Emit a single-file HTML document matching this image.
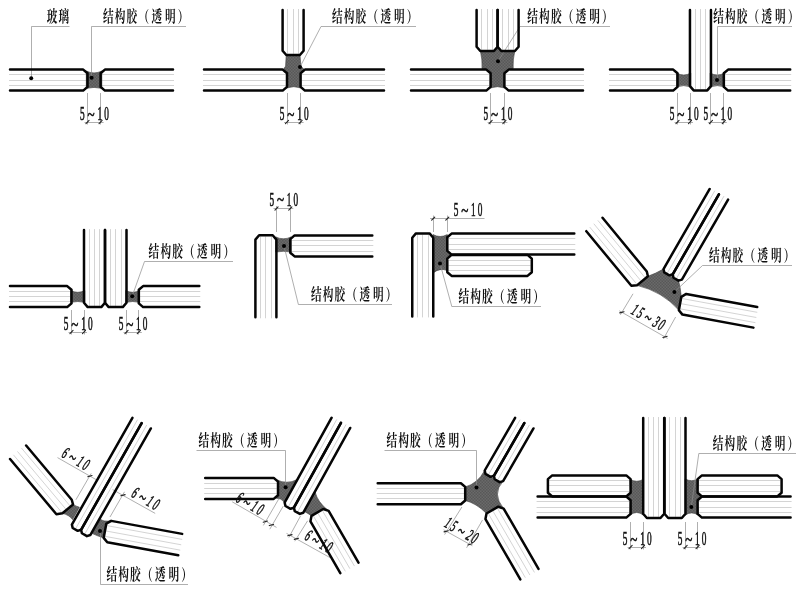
<!DOCTYPE html>
<html lang="zh-CN">
<head>
<meta charset="utf-8">
<title>玻璃 结构胶（透明） 节点</title>
<style>
html,body{margin:0;padding:0;background:#fff;}
body{width:800px;height:591px;overflow:hidden;}
svg{display:block;will-change:transform;filter:grayscale(1);}
.cj{font-family:"Liberation Serif","Noto Serif CJK SC",serif;font-size:15.9px;font-weight:700;}
.nm{font-family:"Liberation Serif","Noto Serif CJK SC",serif;stroke:#111;stroke-width:0.6px;}
.it{font-style:italic;}
</style>
</head>
<body>
<svg width="800" height="591" viewBox="0 0 800 591">
<defs><pattern id="ht" width="1.5" height="1.5" patternUnits="userSpaceOnUse"><rect width="1.5" height="1.5" fill="#767676"/><rect width="0.75" height="0.75" fill="#4c4c4c"/><rect x="0.75" y="0.75" width="0.75" height="0.75" fill="#4c4c4c"/></pattern></defs>
<rect width="800" height="591" fill="#fff"/>
<g fill="none" stroke="#c2c2c2" stroke-width="0.7">
<path d="M86.3,85.5 L9,85.5"/>
<path d="M86.3,80.5 L9,80.5"/>
<path d="M86.3,74.5 L9,74.5"/>
<path d="M101.8,74.5 L174,74.5"/>
<path d="M101.8,80.5 L174,80.5"/>
<path d="M101.8,85.5 L174,85.5"/>
<path d="M285.8,85.5 L203,85.5"/>
<path d="M285.8,80.5 L203,80.5"/>
<path d="M285.8,74.5 L203,74.5"/>
<path d="M301.8,74.5 L385,74.5"/>
<path d="M301.8,80.5 L385,80.5"/>
<path d="M301.8,85.5 L385,85.5"/>
<path d="M287.5,53.8 L287.5,9"/>
<path d="M293.5,53.8 L293.5,9"/>
<path d="M298.5,53.8 L298.5,9"/>
<path d="M489.4,85.5 L410,85.5"/>
<path d="M489.4,80.5 L410,80.5"/>
<path d="M489.4,74.5 L410,74.5"/>
<path d="M505.6,74.5 L584,74.5"/>
<path d="M505.6,80.5 L584,80.5"/>
<path d="M505.6,85.5 L584,85.5"/>
<path d="M481.5,49.8 L481.5,9"/>
<path d="M487.5,49.8 L487.5,9"/>
<path d="M492.5,49.8 L492.5,9"/>
<path d="M502.5,49.8 L502.5,9"/>
<path d="M508.5,49.8 L508.5,9"/>
<path d="M513.5,49.8 L513.5,9"/>
<path d="M676.3,85.5 L609,85.5"/>
<path d="M676.3,80.5 L609,80.5"/>
<path d="M676.3,74.5 L609,74.5"/>
<path d="M725,74.5 L791.2,74.5"/>
<path d="M725,80.5 L791.2,80.5"/>
<path d="M725,85.5 L791.2,85.5"/>
<path d="M695.5,89.2 L695.5,9"/>
<path d="M700.5,89.2 L700.5,9"/>
<path d="M705.5,89.2 L705.5,9"/>
<path d="M70.3,301.5 L9,301.5"/>
<path d="M70.3,296.5 L9,296.5"/>
<path d="M70.3,291.5 L9,291.5"/>
<path d="M140,291.5 L200.3,291.5"/>
<path d="M140,296.5 L200.3,296.5"/>
<path d="M140,301.5 L200.3,301.5"/>
<path d="M89.5,305.9 L89.5,229.1"/>
<path d="M94.5,305.9 L94.5,229.1"/>
<path d="M99.5,305.9 L99.5,229.1"/>
<path d="M110.5,305.9 L110.5,229.1"/>
<path d="M115.5,305.9 L115.5,229.1"/>
<path d="M121.5,305.9 L121.5,229.1"/>
<path d="M271.5,236.5 L271.5,318.3"/>
<path d="M265.5,236.5 L265.5,318.3"/>
<path d="M260.5,236.5 L260.5,318.3"/>
<path d="M291.5,240.5 L373.3,240.5"/>
<path d="M291.5,245.5 L373.3,245.5"/>
<path d="M291.5,251.5 L373.3,251.5"/>
<path d="M428.5,234.6 L428.5,317.4"/>
<path d="M422.5,234.6 L422.5,317.4"/>
<path d="M417.5,234.6 L417.5,317.4"/>
<path d="M448.5,238.5 L575.3,238.5"/>
<path d="M448.5,244.5 L575.3,244.5"/>
<path d="M448.5,249.5 L575.3,249.5"/>
<path d="M448.5,260.5 L530.6,260.5"/>
<path d="M448.5,265.5 L530.6,265.5"/>
<path d="M448.5,270.5 L530.6,270.5"/>
<path d="M636.69,284.01 L589.74,227.07"/>
<path d="M640.74,280.67 L593.79,223.73"/>
<path d="M644.79,277.33 L597.85,220.39"/>
<path d="M682.23,298.55 L757.27,312.33"/>
<path d="M681.28,303.72 L756.33,317.49"/>
<path d="M680.33,308.88 L755.38,322.65"/>
<path d="M667.4,272.86 L714.8,190.76"/>
<path d="M676.6,278.16 L724,196.06"/>
<path d="M61.71,512.36 L13.43,454.83"/>
<path d="M65.73,508.98 L17.46,451.45"/>
<path d="M69.75,505.61 L21.48,448.08"/>
<path d="M107.16,525.66 L182.21,539.43"/>
<path d="M106.18,531.02 L181.23,544.79"/>
<path d="M105.2,536.38 L180.24,550.15"/>
<path d="M75.79,528.36 L137.54,419.67"/>
<path d="M84.99,533.66 L146.74,424.97"/>
<path d="M276.8,493.5 L204.2,493.5"/>
<path d="M276.8,488.5 L204.2,488.5"/>
<path d="M276.8,483.5 L204.2,483.5"/>
<path d="M288.58,506.35 L336.77,419.41"/>
<path d="M297.88,511.45 L346.07,424.51"/>
<path d="M322.55,510.81 L354.45,566.07"/>
<path d="M318,513.44 L349.9,568.69"/>
<path d="M313.45,516.06 L345.35,571.32"/>
<path d="M464,498.5 L376.7,498.5"/>
<path d="M464,493.5 L376.7,493.5"/>
<path d="M464,488.5 L376.7,488.5"/>
<path d="M488.6,474.36 L520.2,419.63"/>
<path d="M497.8,479.66 L529.4,424.93"/>
<path d="M497.55,508.51 L534.45,572.43"/>
<path d="M493,511.14 L529.9,575.05"/>
<path d="M488.45,513.76 L525.35,577.68"/>
<path d="M629.4,512.5 L536.6,512.5"/>
<path d="M629.4,507.5 L536.6,507.5"/>
<path d="M629.4,501.5 L536.6,501.5"/>
<path d="M698.8,501.5 L791.6,501.5"/>
<path d="M698.8,507.5 L791.6,507.5"/>
<path d="M698.8,512.5 L791.6,512.5"/>
<path d="M629.4,491.5 L549.1,491.5"/>
<path d="M629.4,485.5 L549.1,485.5"/>
<path d="M629.4,480.5 L549.1,480.5"/>
<path d="M698.8,480.5 L780.4,480.5"/>
<path d="M698.8,485.5 L780.4,485.5"/>
<path d="M698.8,491.5 L780.4,491.5"/>
<path d="M648.5,516.8 L648.5,417"/>
<path d="M653.5,516.8 L653.5,417"/>
<path d="M658.5,516.8 L658.5,417"/>
<path d="M669.5,516.8 L669.5,417"/>
<path d="M675.5,516.8 L675.5,417"/>
<path d="M680.5,516.8 L680.5,417"/>
</g>
<g fill="url(#ht)" stroke="#3a3a3a" stroke-width="0.6">
<path d="M86.3,71 Q94.05,74.8 101.8,71 L101.8,88.4 Q94.05,86.4 86.3,88.4 Z"/>
<path d="M286.2,55.2 L300,55.2 L300.9,66.2 L304.4,69.6 L300.6,73.2 L300.6,86.6 L302,88.2 Q293.8,85.2 285.6,88.2 L287,86.6 L287,73.2 L283.2,69.6 L285.6,66.2 Z"/>
<path d="M480.4,51 L494,51 L497.6,47.5 L501.2,51 L514.8,51 Q512.6,60 513.2,68.6 L508.8,69.4 L504.4,73.2 L504.4,86.6 L505.8,88.2 Q497.5,85.2 489.2,88.2 L490.6,86.6 L490.6,73.2 L486.2,69.4 L482,68.6 Q482.6,60 480.4,51 Z"/>
<path d="M676.7,73 Q683.75,77 690.8,73 L690.8,87 Q683.75,84.2 676.7,87 Z"/>
<path d="M710.1,73 Q717.35,77 724.6,73 L724.6,87 Q717.35,84.2 710.1,87 Z"/>
<path d="M70.7,290.6 Q77.75,294 84.8,290.6 L84.8,302.4 Q77.75,300.6 70.7,302.4 Z"/>
<path d="M125.7,290.6 Q132.65,294 139.6,290.6 L139.6,302.4 Q132.65,300.6 125.7,302.4 Z"/>
<path d="M275.7,236.9 Q283.4,240.7 291.1,236.9 L291.1,252 Q283.4,250.6 275.7,252 Z"/>
<path d="M433,234.6 Q440.2,238.4 447.3,234.6 L447.3,250.8 L451.4,254.8 L447.3,258.8 L447.3,270.6 Q440,267.4 433,273 Z"/>
<path d="M647.9,276.32 Q655.5,273.6 663.51,269 L664.29,272.45 L669.31,275.35 L673.49,277.75 L678.51,280.65 Q680.2,286 681.33,296.81 L678.87,310.19 Q662.3,291.4 636.95,285.35 Z"/>
<path d="M73.01,504.44 Q76.4,506.4 79.4,507.2 L72.6,519.6 Q69.6,515.2 62.44,513.31 Z"/>
<path d="M100.6,519.2 Q102.8,521.8 111.2,520.86 L106.3,523.72 L103.7,537.88 Q97.5,536 92.4,533.6 Z"/>
<path d="M275.8,479.4 Q287,485 297.4,479.4 L284.6,502.4 Q281,497.8 276.2,498.2 L278,495.2 L278,481.6 Z"/>
<path d="M315.2,492.2 Q317.5,502 328.64,510.87 L323.29,509 L311.51,515.8 Q307.5,513 304.3,511.4 Z"/>
<path d="M465.2,486.9 Q477.4,483.8 484.71,470.5 L485.49,473.95 L490.51,476.85 L494.69,479.25 L499.71,482.15 L503.09,481.1 Q491.5,494 503.64,508.57 L498.29,506.7 L486.51,513.5 Q476.3,503.2 465.2,500.5 Z"/>
<path d="M629.8,479.2 Q636.8,483.3 643.5,479.2 L643.5,515.2 Q636.8,509.8 629.8,515.2 L630.6,500.2 L626.6,496.3 L630.6,492.4 Z"/>
<path d="M685,478.8 Q691.6,482.6 698.4,478.8 L697.6,492.4 L701.6,496.3 L697.6,500.2 L698.4,515.2 Q691.6,510.6 685,515.2 Z"/>
</g>
<g fill="none" stroke="#8c8c8c" stroke-width="0.7">
<path d="M91.5,77.8 L91.5,26.5 L186,26.5"/>
<path d="M31.5,78.3 L31.5,26.5 L69.5,26.5"/>
<path d="M87.5,93 L87.5,124.5"/>
<path d="M100.5,93 L100.5,124.5"/>
<path d="M84.5,122.5 L103.6,122.5"/>
<path d="M300,67 L321,26.5 L416,26.5"/>
<path d="M287.5,93 L287.5,124.5"/>
<path d="M300.5,93 L300.5,124.5"/>
<path d="M284,122.5 L303.6,122.5"/>
<path d="M498,61.2 L520,26.5 L610,26.5"/>
<path d="M490.5,93 L490.5,124.5"/>
<path d="M504.5,93 L504.5,124.5"/>
<path d="M487.6,122.5 L507.4,122.5"/>
<path d="M717.5,80 L717.5,26.5 L792,26.5"/>
<path d="M677.5,93 L677.5,124.5"/>
<path d="M690.5,93 L690.5,124.5"/>
<path d="M674.5,122.5 L693,122.5"/>
<path d="M710.5,93 L710.5,124.5"/>
<path d="M723.5,93 L723.5,124.5"/>
<path d="M707.9,122.5 L726.8,122.5"/>
<path d="M132.2,296.2 L144.5,261.5 L233,261.5"/>
<path d="M71.5,310 L71.5,334.5"/>
<path d="M84.5,310 L84.5,334.5"/>
<path d="M68.5,332.5 L87,332.5"/>
<path d="M126.5,310 L126.5,334.5"/>
<path d="M138.5,310 L138.5,334.5"/>
<path d="M123.5,332.5 L141.8,332.5"/>
<path d="M284,246 L298.4,304.5 L392,304.5"/>
<path d="M276.5,232 L276.5,206"/>
<path d="M290.5,232 L290.5,206"/>
<path d="M273.5,208.5 L293.3,208.5"/>
<path d="M440,263.4 L451.8,306.5 L541,306.5"/>
<path d="M433.5,232 L433.5,215.5"/>
<path d="M447.5,232 L447.5,215.5"/>
<path d="M430,218.5 L484.5,218.5"/>
<path d="M674.4,292 L702.5,265.5 L792,265.5"/>
<path d="M633,293.8 L620.4,314.8"/>
<path d="M675.6,317 L663.4,339"/>
<path d="M619.3,310.8 L667.6,338.4"/>
<path d="M100.5,531 L100.5,584.5 L188,584.5"/>
<path d="M57.5,457.6 L97.8,480.6"/>
<path d="M91.2,473.4 L75.9,499.8"/>
<path d="M112.6,489.6 L155.2,513.4"/>
<path d="M124.5,491.8 L110,517"/>
<path d="M285.5,487.3 L285.5,450.5 L196.5,450.5"/>
<path d="M232.2,501.8 L276.5,527.4"/>
<path d="M278.6,499.2 L263.4,525.4"/>
<path d="M283.2,506.2 L269.8,529.2"/>
<path d="M286.5,533.4 L330,557.6"/>
<path d="M300.6,515.8 L288.8,537.6"/>
<path d="M307.6,520.8 L294.8,541.2"/>
<path d="M476.5,487.5 L476.5,450.5 L384.5,450.5"/>
<path d="M461.9,507 L444.6,534.6"/>
<path d="M482.5,520 L466.6,547.8"/>
<path d="M443.6,529.8 L472.4,545.8"/>
<path d="M691.3,507 L698.8,453.5 L796,453.5"/>
<path d="M630.5,522 L630.5,549.5"/>
<path d="M643.5,522 L643.5,549.5"/>
<path d="M627.6,547.5 L646,547.5"/>
<path d="M685.5,522 L685.5,549.5"/>
<path d="M697.5,522 L697.5,549.5"/>
<path d="M682.6,547.5 L700.6,547.5"/>
</g>
<g fill="none" stroke="#050505" stroke-width="2.5" stroke-linejoin="round" stroke-linecap="round">
<path d="M10,90.6 L83.2,90.6 L87.5,86.9 L87.5,73.3 L83.2,69.6 L10,69.6"/>
<path d="M173,69.6 L104.9,69.6 L100.6,73.3 L100.6,86.9 L104.9,90.6 L173,90.6"/>
<path d="M204,90.6 L282.7,90.6 L287,86.9 L287,73.3 L282.7,69.6 L204,69.6"/>
<path d="M384,69.6 L304.9,69.6 L300.6,73.3 L300.6,86.9 L304.9,90.6 L384,90.6"/>
<path d="M282.6,10 L282.6,50.7 L286.3,55 L299.9,55 L303.6,50.7 L303.6,10"/>
<path d="M411,90.6 L486.3,90.6 L490.6,86.9 L490.6,73.3 L486.3,69.6 L411,69.6"/>
<path d="M583,69.6 L508.7,69.6 L504.4,73.3 L504.4,86.9 L508.7,90.6 L583,90.6"/>
<path d="M476.6,10 L476.6,46.7 L480.3,51 L493.9,51 L497.6,46.7 L497.6,10"/>
<path d="M497.6,10 L497.6,46.7 L501.3,51 L514.9,51 L518.6,46.7 L518.6,10"/>
<path d="M610,90.6 L673.2,90.6 L677.5,86.9 L677.5,73.3 L673.2,69.6 L610,69.6"/>
<path d="M790.2,69.6 L728.1,69.6 L723.8,73.3 L723.8,86.9 L728.1,90.6 L790.2,90.6"/>
<path d="M689.95,10 L689.95,86.1 L693.65,90.4 L707.25,90.4 L710.95,86.1 L710.95,10"/>
<path d="M10,307.1 L67.2,307.1 L71.5,303.4 L71.5,289.8 L67.2,286.1 L10,286.1"/>
<path d="M199.3,286.1 L143.1,286.1 L138.8,289.8 L138.8,303.4 L143.1,307.1 L199.3,307.1"/>
<path d="M84,230.1 L84,302.8 L87.7,307.1 L101.3,307.1 L105,302.8 L105,230.1"/>
<path d="M105,230.1 L105,302.8 L108.7,307.1 L122.8,307.1 L126.5,302.8 L126.5,230.1"/>
<path d="M276.4,317.3 L276.4,239.6 L272.7,235.3 L259.1,235.3 L255.4,239.6 L255.4,317.3"/>
<path d="M372.3,235.4 L294.6,235.4 L290.3,239.1 L290.3,252.7 L294.6,256.4 L372.3,256.4"/>
<path d="M433.25,316.4 L433.25,237.7 L429.55,233.4 L415.95,233.4 L412.25,237.7 L412.25,316.4"/>
<path d="M574.3,233.6 L451.6,233.6 L447.3,237.3 L447.3,250.9 L451.6,254.6 L574.3,254.6"/>
<path d="M447.3,258.6 L447.3,272.2 L451.6,275.9 L527.5,275.9 L531.8,272.2 L531.8,258.6 L527.5,254.9 L451.6,254.9 Z"/>
<path d="M586.33,231.18 L631.36,285.81 L636.95,285.35 L647.9,276.32 L646.8,271.53 L602.53,217.82"/>
<path d="M757.24,306.98 L686.22,293.95 L681.33,296.81 L678.87,310.19 L682.43,314.6 L753.45,327.64"/>
<path d="M709.71,188.98 L663.51,269 L664.29,272.45 L669.31,275.35 L672.69,274.3 L718.89,194.28"/>
<path d="M718.91,194.28 L672.71,274.3 L673.49,277.75 L678.51,280.65 L681.89,279.6 L728.09,199.58"/>
<path d="M10.05,458.97 L56.4,514.2 L62.44,513.31 L73.01,504.44 L71.72,499.78 L26.14,445.47"/>
<path d="M182.21,533.89 L111.2,520.86 L106.3,523.72 L103.7,537.88 L107.26,542.3 L178.28,555.33"/>
<path d="M132.43,417.92 L71.88,524.52 L72.68,527.97 L77.72,530.83 L81.09,529.76 L141.65,423.16"/>
<path d="M141.63,423.22 L81.08,529.82 L81.88,533.27 L86.92,536.13 L90.29,535.06 L150.85,428.46"/>
<path d="M205.2,498.9 L273.7,498.9 L278,495.2 L278,481.6 L273.7,477.9 L205.2,477.9"/>
<path d="M331.65,417.72 L284.63,502.56 L285.46,505.99 L290.54,508.81 L293.9,507.7 L340.92,422.86"/>
<path d="M340.95,422.82 L293.93,507.66 L294.76,511.09 L299.84,513.91 L303.2,512.8 L350.22,427.96"/>
<path d="M358.49,562.58 L328.64,510.87 L323.29,509 L311.51,515.8 L310.46,521.37 L340.31,573.08"/>
<path d="M377.7,504.2 L460.9,504.2 L465.2,500.5 L465.2,486.9 L460.9,483.2 L377.7,483.2"/>
<path d="M515.11,417.84 L484.71,470.5 L485.49,473.95 L490.51,476.85 L493.89,475.8 L524.29,423.14"/>
<path d="M524.31,423.14 L493.91,475.8 L494.69,479.25 L499.71,482.15 L503.09,481.1 L533.49,428.44"/>
<path d="M538.49,568.94 L503.64,508.57 L498.29,506.7 L486.51,513.5 L485.46,519.07 L520.31,579.44"/>
<path d="M537.6,517.6 L626.3,517.6 L630.6,513.9 L630.6,500.3 L626.3,496.6 L537.6,496.6"/>
<path d="M790.6,496.6 L701.9,496.6 L697.6,500.3 L697.6,513.9 L701.9,517.6 L790.6,517.6"/>
<path d="M630.6,492.7 L630.6,479.1 L626.3,475.4 L552.2,475.4 L547.9,479.1 L547.9,492.7 L552.2,496.4 L626.3,496.4 Z"/>
<path d="M697.6,479.1 L697.6,492.7 L701.9,496.4 L777.3,496.4 L781.6,492.7 L781.6,479.1 L777.3,475.4 L701.9,475.4 Z"/>
<path d="M643.2,418 L643.2,513.7 L646.9,518 L660.5,518 L664.2,513.7 L664.2,418"/>
<path d="M664.5,418 L664.5,513.7 L668.2,518 L681.8,518 L685.5,513.7 L685.5,418"/>
</g>
<g fill="none" stroke="#222" stroke-width="1.1" stroke-linecap="round">
<path d="M89.06,120.44 L85.94,123.56"/>
<path d="M102.16,120.44 L99.04,123.56"/>
<path d="M288.56,120.44 L285.44,123.56"/>
<path d="M302.16,120.44 L299.04,123.56"/>
<path d="M492.16,120.44 L489.04,123.56"/>
<path d="M505.96,120.44 L502.84,123.56"/>
<path d="M679.06,120.44 L675.94,123.56"/>
<path d="M691.56,120.44 L688.44,123.56"/>
<path d="M712.46,120.44 L709.34,123.56"/>
<path d="M725.36,120.44 L722.24,123.56"/>
<path d="M73.06,330.44 L69.94,333.56"/>
<path d="M85.56,330.44 L82.44,333.56"/>
<path d="M128.06,330.44 L124.94,333.56"/>
<path d="M140.36,330.44 L137.24,333.56"/>
<path d="M278.06,206.94 L274.94,210.06"/>
<path d="M291.86,206.94 L288.74,210.06"/>
<path d="M434.76,217.04 L431.64,220.16"/>
<path d="M448.86,217.04 L445.74,220.16"/>
<path d="M624.03,311.73 L619.77,312.87"/>
<path d="M667.13,336.33 L662.87,337.47"/>
<path d="M92.03,475.53 L87.77,476.67"/>
<path d="M125.13,494.63 L120.87,495.77"/>
<path d="M267.43,521.03 L263.17,522.17"/>
<path d="M273.53,524.43 L269.27,525.57"/>
<path d="M292.03,534.63 L287.77,535.77"/>
<path d="M298.53,538.23 L294.27,539.37"/>
<path d="M448.33,530.73 L444.07,531.87"/>
<path d="M472.13,543.83 L467.87,544.97"/>
<path d="M632.16,545.44 L629.04,548.56"/>
<path d="M644.56,545.44 L641.44,548.56"/>
<path d="M687.16,545.44 L684.04,548.56"/>
<path d="M699.16,545.44 L696.04,548.56"/>
</g>
<g fill="#000">
<circle cx="91.6" cy="77.8" r="2"/>
<circle cx="31.2" cy="78.3" r="2"/>
<circle cx="300" cy="67" r="2"/>
<circle cx="498" cy="61.2" r="2"/>
<circle cx="717" cy="80" r="2"/>
<circle cx="132.2" cy="296.2" r="2"/>
<circle cx="284" cy="246" r="2"/>
<circle cx="440" cy="263.4" r="2"/>
<circle cx="674.4" cy="292" r="2"/>
<circle cx="100" cy="531" r="2"/>
<circle cx="285.6" cy="487.3" r="2"/>
<circle cx="476.5" cy="487.5" r="2"/>
<circle cx="691.3" cy="507" r="2"/>
</g>
<g fill="#111">
<text class="cj" x="0 17.61 35.22 52.84 72.24 92.39 111.64" transform="translate(103,21.5) scale(0.67,1)">结构胶（透明）</text>
<text class="cj" x="0 17.61" transform="translate(46.8,21.5) scale(0.67,1)">玻璃</text>
<g class="nm" font-size="17.8" transform="translate(94.05,119.8) rotate(0)"><text transform="scale(0.52,1)" x="-26.83">5</text><text transform="scale(0.74,1)" x="-8.72" y="0.8">~</text><text transform="scale(0.52,1)" x="6.63 19.52">10</text></g>
<text class="cj" x="0 17.61 35.22 52.84 72.24 92.39 111.64" transform="translate(332,21.5) scale(0.67,1)">结构胶（透明）</text>
<g class="nm" font-size="17.8" transform="translate(293.8,119.8) rotate(0)"><text transform="scale(0.52,1)" x="-26.83">5</text><text transform="scale(0.74,1)" x="-8.72" y="0.8">~</text><text transform="scale(0.52,1)" x="6.63 19.52">10</text></g>
<text class="cj" x="0 17.61 35.22 52.84 72.24 92.39 111.64" transform="translate(527.3,21.5) scale(0.67,1)">结构胶（透明）</text>
<g class="nm" font-size="17.8" transform="translate(497.5,119.8) rotate(0)"><text transform="scale(0.52,1)" x="-26.83">5</text><text transform="scale(0.74,1)" x="-8.72" y="0.8">~</text><text transform="scale(0.52,1)" x="6.63 19.52">10</text></g>
<text class="cj" x="0 17.61 35.22 52.84 72.24 92.39 111.64" transform="translate(713.2,21.5) scale(0.67,1)">结构胶（透明）</text>
<g class="nm" font-size="17.8" transform="translate(683.75,119.8) rotate(0)"><text transform="scale(0.52,1)" x="-26.83">5</text><text transform="scale(0.74,1)" x="-8.72" y="0.8">~</text><text transform="scale(0.52,1)" x="6.63 19.52">10</text></g>
<g class="nm" font-size="17.8" transform="translate(717.35,119.8) rotate(0)"><text transform="scale(0.52,1)" x="-26.83">5</text><text transform="scale(0.74,1)" x="-8.72" y="0.8">~</text><text transform="scale(0.52,1)" x="6.63 19.52">10</text></g>
<text class="cj" x="0 17.61 35.22 52.84 72.24 92.39 111.64" transform="translate(148.6,257) scale(0.67,1)">结构胶（透明）</text>
<g class="nm" font-size="17.8" transform="translate(77.75,329.8) rotate(0)"><text transform="scale(0.52,1)" x="-26.83">5</text><text transform="scale(0.74,1)" x="-8.72" y="0.8">~</text><text transform="scale(0.52,1)" x="6.63 19.52">10</text></g>
<g class="nm" font-size="17.8" transform="translate(132.65,329.8) rotate(0)"><text transform="scale(0.52,1)" x="-26.83">5</text><text transform="scale(0.74,1)" x="-8.72" y="0.8">~</text><text transform="scale(0.52,1)" x="6.63 19.52">10</text></g>
<text class="cj" x="0 17.61 35.22 52.84 72.24 92.39 111.64" transform="translate(311,300.2) scale(0.67,1)">结构胶（透明）</text>
<g class="nm" font-size="17.8" transform="translate(283.4,205.5) rotate(0)"><text transform="scale(0.52,1)" x="-26.83">5</text><text transform="scale(0.74,1)" x="-8.72" y="0.8">~</text><text transform="scale(0.52,1)" x="6.63 19.52">10</text></g>
<text class="cj" x="0 17.61 35.22 52.84 72.24 92.39 111.64" transform="translate(458.5,301.6) scale(0.67,1)">结构胶（透明）</text>
<g class="nm" font-size="17.8" transform="translate(467.6,216.2) rotate(0)"><text transform="scale(0.52,1)" x="-26.83">5</text><text transform="scale(0.74,1)" x="-8.72" y="0.8">~</text><text transform="scale(0.52,1)" x="6.63 19.52">10</text></g>
<text class="cj" x="0 17.61 35.22 52.84 72.24 92.39 111.64" transform="translate(709,260.8) scale(0.67,1)">结构胶（透明）</text>
<g class="nm it" font-size="17" transform="translate(645.52,322.05) rotate(30)"><text transform="scale(0.52,1)" x="-33.94 -21.06">15</text><text transform="scale(0.74,1)" x="-4.66" y="0.8">~</text><text transform="scale(0.52,1)" x="13.75 25.29">30</text></g>
<text class="cj" x="0 17.61 35.22 52.84 72.24 92.39 111.64" transform="translate(106.5,579.6) scale(0.67,1)">结构胶（透明）</text>
<g class="nm it" font-size="17" transform="translate(72.72,463.35) rotate(30)"><text transform="scale(0.52,1)" x="-26.83">6</text><text transform="scale(0.74,1)" x="-8.72" y="0.8">~</text><text transform="scale(0.52,1)" x="6.63 19.52">10</text></g>
<g class="nm it" font-size="17" transform="translate(142.62,503.15) rotate(30)"><text transform="scale(0.52,1)" x="-26.83">6</text><text transform="scale(0.74,1)" x="-8.72" y="0.8">~</text><text transform="scale(0.52,1)" x="6.63 19.52">10</text></g>
<text class="cj" x="0 17.61 35.22 52.84 72.24 92.39 111.64" transform="translate(198.5,445.8) scale(0.67,1)">结构胶（透明）</text>
<g class="nm it" font-size="17" transform="translate(247.02,508.15) rotate(30)"><text transform="scale(0.52,1)" x="-26.83">6</text><text transform="scale(0.74,1)" x="-8.72" y="0.8">~</text><text transform="scale(0.52,1)" x="6.63 19.52">10</text></g>
<g class="nm it" font-size="17" transform="translate(315.82,545.95) rotate(30)"><text transform="scale(0.52,1)" x="-26.83">6</text><text transform="scale(0.74,1)" x="-8.72" y="0.8">~</text><text transform="scale(0.52,1)" x="6.63 19.52">10</text></g>
<text class="cj" x="0 17.61 35.22 52.84 72.24 92.39 111.64" transform="translate(386.5,445.8) scale(0.67,1)">结构胶（透明）</text>
<g class="nm it" font-size="17" transform="translate(458.82,535.15) rotate(30)"><text transform="scale(0.52,1)" x="-33.94 -21.06">15</text><text transform="scale(0.74,1)" x="-4.66" y="0.8">~</text><text transform="scale(0.52,1)" x="13.75 25.29">20</text></g>
<text class="cj" x="0 17.61 35.22 52.84 72.24 92.39 111.64" transform="translate(712.8,449) scale(0.67,1)">结构胶（透明）</text>
<g class="nm" font-size="17.8" transform="translate(636.8,544.8) rotate(0)"><text transform="scale(0.52,1)" x="-26.83">5</text><text transform="scale(0.74,1)" x="-8.72" y="0.8">~</text><text transform="scale(0.52,1)" x="6.63 19.52">10</text></g>
<g class="nm" font-size="17.8" transform="translate(691.6,544.8) rotate(0)"><text transform="scale(0.52,1)" x="-26.83">5</text><text transform="scale(0.74,1)" x="-8.72" y="0.8">~</text><text transform="scale(0.52,1)" x="6.63 19.52">10</text></g>
</g>
</svg>
</body>
</html>
